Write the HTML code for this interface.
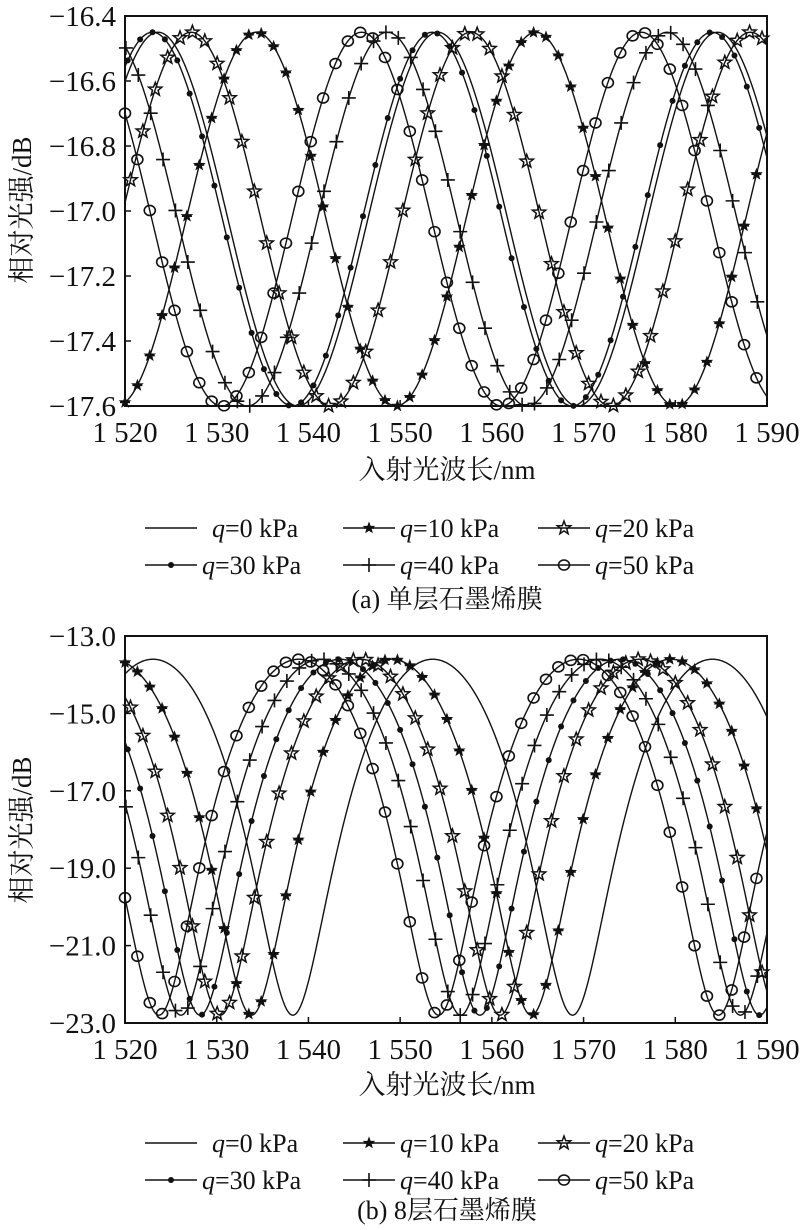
<!DOCTYPE html>
<html><head><meta charset="utf-8">
<style>
html,body{margin:0;padding:0;background:#fff;}
svg{display:block;}
text{font-family:"Liberation Serif","Noto Serif CJK SC",serif;fill:#111;}
</style></head>
<body>
<svg id="s" width="800" height="1230" viewBox="0 0 800 1230" xmlns="http://www.w3.org/2000/svg"></svg>
<script>
const S=document.getElementById('s');const NS='http://www.w3.org/2000/svg';
function el(t,a,txt){const e=document.createElementNS(NS,t);for(const k in a)e.setAttribute(k,a[k]);if(txt!==undefined)e.textContent=txt;S.appendChild(e);return e;}
const X0=125,X1=767;
function xs(l){return X0+(l-1520)*(X1-X0)/70;}
function marker(type,x,y){
  const st={stroke:'#111','stroke-width':1.6,fill:'none'};
  if(type==='o'){el('ellipse',{cx:x,cy:y,rx:5.5,ry:5,...st});}
  else if(type==='dot'){el('circle',{cx:x,cy:y,r:3,fill:'#111'});}
  else if(type==='+'){el('path',{d:`M${x-7},${y}H${x+7}M${x},${y-7}V${y+7}`,...st});}
  else if(type==='star'||type==='sstar'){const R=type==='star'?7:4.5,r=R*0.42;let d='';
    for(let i=0;i<10;i++){const a=-Math.PI/2+i*Math.PI/5,rr=i%2?r:R;d+=(i?'L':'M')+(x+rr*Math.cos(a)).toFixed(1)+','+(y+rr*Math.sin(a)).toFixed(1);}
    el('path',{d:d+'Z',stroke:'#111','stroke-width':1.5,fill:type==='star'?'none':'#111'});
    if(type==='sstar')el('path',{d:`M${x-5},${y}H${x+5}`,stroke:'#111','stroke-width':1.5});}
}
function plot(cfg){
  const {Y0,Y1,vmax,vmin,f,series,ticks,tfmt}=cfg;
  const ys=v=>Y0+(vmax-v)*(Y1-Y0)/(vmax-vmin);
  series.forEach((s,i)=>{
    let d='';for(let l=1520;l<=1590.001;l+=0.1){d+=(l===1520?'M':'L')+xs(l).toFixed(2)+','+ys(f(l,s.p)).toFixed(2);}
    el('path',{d,stroke:'#111','stroke-width':1.4,fill:'none'});
  });
  series.forEach((s,i)=>{ if(!s.m)return;
    for(let l=1520+s.off;l<=1590;l+=1.35){marker(s.m,xs(l),ys(f(l,s.p)));}
  });
  el('rect',{x:X0,y:Y0,width:X1-X0,height:Y1-Y0,stroke:'#111','stroke-width':2,fill:'none'});
  for(let k=0;k<=7;k++){const x=xs(1520+10*k);
    el('line',{x1:x,y1:Y1,x2:x,y2:Y1-6,stroke:'#111','stroke-width':1.5});
    el('text',{x:x,y:Y1+36,'text-anchor':'middle','font-size':29},'1 '+(520+10*k));}
  ticks.forEach(v=>{const y=ys(v);
    el('line',{x1:X0,y1:y,x2:X0+6,y2:y,stroke:'#111','stroke-width':1.5});
    el('text',{x:116,y:y+10,'text-anchor':'end','font-size':29},'\u2212'+tfmt(v));});
}
const TWO=2*Math.PI;
plot({Y0:16,Y1:406,vmax:-16.4,vmin:-17.6,
 f:(l,p)=>-17.025+0.575*Math.cos(TWO*(l-p)/30.5),
 series:[{p:1523.6,m:null,off:0},{p:1534.3,m:'sstar',off:0},{p:1527.2,m:'star',off:0.6},{p:1523.0,m:'dot',off:0.3},{p:1548.6,m:'+',off:0.1},{p:1545.8,m:'o',off:0}],
 ticks:[-16.4,-16.6,-16.8,-17.0,-17.2,-17.4,-17.6],tfmt:v=>Math.abs(v).toFixed(1)});
const c=0.02445,dd=0.0192;
plot({Y0:636,Y1:1023,vmax:-13,vmin:-23,
 f:(l,p)=>10*Math.log10(c-dd*Math.cos(TWO*(l-p)/30.5)),
 series:[{p:1538.3,m:null,off:0},{p:1533.8,m:'sstar',off:0},{p:1530.4,m:'star',off:0.6},{p:1528.2,m:'dot',off:0.3},{p:1526.1,m:'+',off:0.1},{p:1523.7,m:'o',off:0}],
 ticks:[-13,-15,-17,-19,-21,-23],tfmt:v=>Math.abs(v).toFixed(1)});
function block(yAx,yL1,yL2,yCap,cap,ylabY){
  el('text',{x:447,y:yAx,'text-anchor':'middle','font-size':27},'入射光波长/nm');
  el('text',{x:0,y:0,'text-anchor':'middle','font-size':27,transform:`translate(31,${ylabY}) rotate(-90)`},'相对光强/dB');
  const items=[[145,yL1,null,'0'],[343,yL1,'sstar','10'],[538,yL1,'star','20'],[145,yL2,'dot','30'],[343,yL2,'+','40'],[538,yL2,'o','50']];
  items.forEach(([x,y,m,q])=>{
    el('line',{x1:x,y1:y,x2:x+52,y2:y,stroke:'#111','stroke-width':1.5});
    if(m)marker(m,x+26,y);
    const tx=el('text',{x:x+(q==='0'?67:57),y:y+9,'font-size':26});
    const a=document.createElementNS(NS,'tspan');a.setAttribute('font-style','italic');a.textContent='q';tx.appendChild(a);
    tx.appendChild(document.createTextNode('='+q+' kPa'));
  });
  el('text',{x:447,y:yCap,'text-anchor':'middle','font-size':26},cap);
}
block(479,528,565,608,'(a) 单层石墨烯膜',210);
block(1094,1143,1180,1219,'(b) 8层石墨烯膜',830);
</script>
</body></html>
